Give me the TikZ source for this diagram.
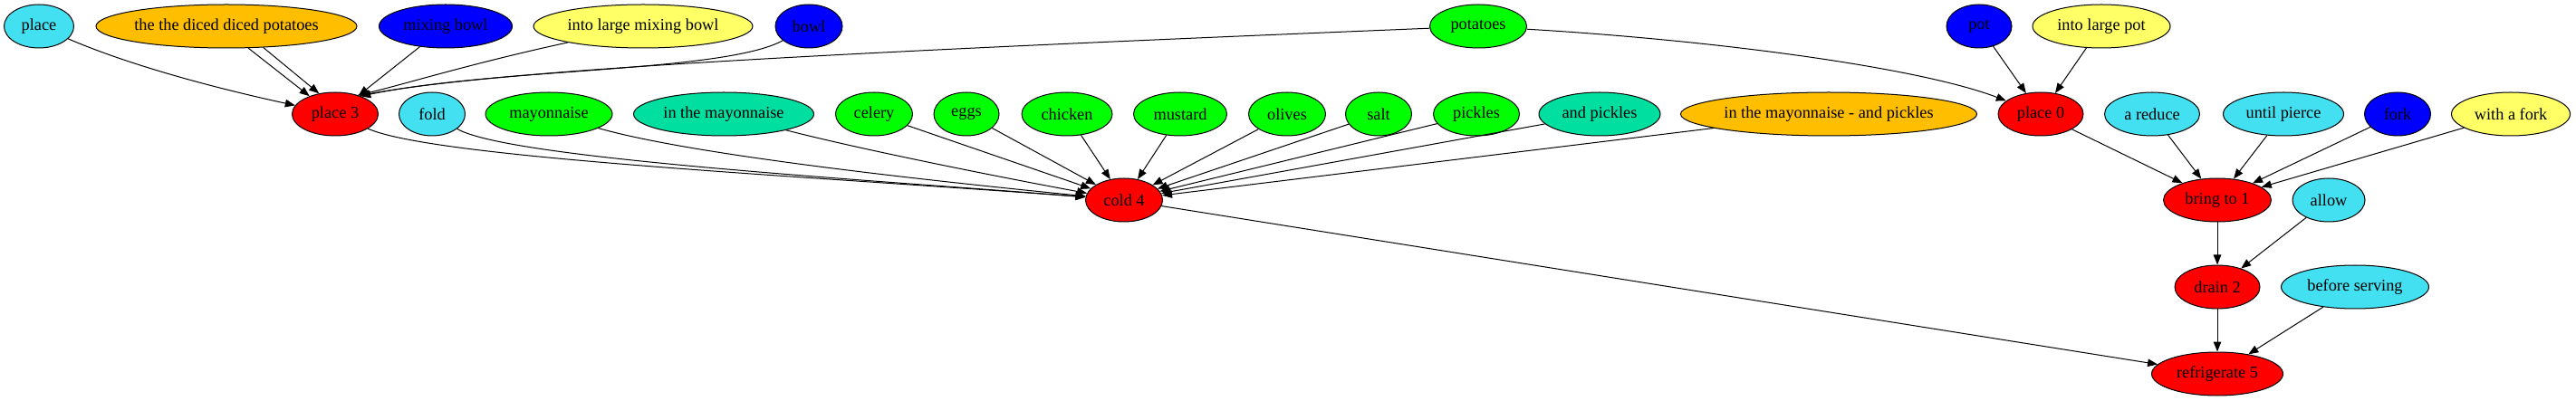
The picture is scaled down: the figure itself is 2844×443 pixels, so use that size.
\documentclass[tikz,border=0pt]{standalone}
\usepackage{fontspec}
\setmainfont{Liberation Serif}
\usetikzlibrary{arrows.meta,shapes.geometric}
\definecolor{cC}{RGB}{66,224,240}
\definecolor{cO}{RGB}{255,190,0}
\definecolor{cB}{RGB}{0,0,255}
\definecolor{cY}{RGB}{255,255,102}
\definecolor{cG}{RGB}{0,255,0}
\definecolor{cT}{RGB}{0,222,160}
\definecolor{cR}{RGB}{255,0,0}
\tikzset{
  nd/.style={ellipse,draw=black,line width=1pt,inner sep=0pt,minimum height=48pt,
    font=\fontsize{18.3}{22}\selectfont},
  arr/.style={draw=black,line width=1pt,-{Triangle[length=11pt,width=8.5pt]}},
}
\begin{document}
\begin{tikzpicture}[x=1pt,y=-1pt]
\useasboundingbox (0,0) rectangle (2844,443);
% rank 0
\node[nd,fill=cC,minimum width=77pt] (place) at (43,29) {place};
\node[nd,fill=cO,minimum width=288pt] (dp) at (250,29) {the the diced diced potatoes};
\node[nd,fill=cB,minimum width=147pt] (mb) at (492,29) {mixing bowl};
\node[nd,fill=cY,minimum width=242pt] (ilmb) at (710,29) {into large mixing bowl};
\node[nd,fill=cB,minimum width=74pt] (bowl) at (893,29) {bowl};
\node[nd,fill=cG,minimum width=107pt] (potatoes) at (1632,29) {potatoes};
\node[nd,fill=cB,minimum width=72pt] (pot) at (2185,29) {pot};
\node[nd,fill=cY,minimum width=152pt] (ilp) at (2320,29) {into large pot};
% rank 1
\node[nd,fill=cR,minimum width=95pt] (p3) at (370,126) {place 3};
\node[nd,fill=cC,minimum width=73pt] (fold) at (477,126) {fold};
\node[nd,fill=cG,minimum width=140pt] (mayo) at (606,126) {mayonnaise};
\node[nd,fill=cT,minimum width=199pt] (itm) at (799,126) {in the mayonnaise};
\node[nd,fill=cG,minimum width=85pt] (celery) at (965,126) {celery};
\node[nd,fill=cG,minimum width=72pt] (eggs) at (1067,126) {eggs};
\node[nd,fill=cG,minimum width=100pt] (chicken) at (1178,126) {chicken};
\node[nd,fill=cG,minimum width=103pt] (mustard) at (1303,126) {mustard};
\node[nd,fill=cG,minimum width=85pt] (olives) at (1421,126) {olives};
\node[nd,fill=cG,minimum width=73pt] (salt) at (1522,126) {salt};
\node[nd,fill=cG,minimum width=95pt] (pickles) at (1630,126) {pickles};
\node[nd,fill=cT,minimum width=134pt] (ap) at (1766,126) {and pickles};
\node[nd,fill=cO,minimum width=323pt] (itmap) at (2019,126) {in the mayonnaise - and pickles};
\node[nd,fill=cR,minimum width=94pt] (p0) at (2253,126) {place 0};
\node[nd,fill=cC,minimum width=105pt] (ared) at (2376,126) {a reduce};
\node[nd,fill=cC,minimum width=133pt] (up) at (2521,126) {until pierce};
\node[nd,fill=cB,minimum width=73pt] (fork) at (2647,126) {fork};
\node[nd,fill=cY,minimum width=131pt] (waf) at (2772,126) {with a fork};
% rank 2
\node[nd,fill=cR,minimum width=85pt] (c4) at (1241,221) {cold 4};
\node[nd,fill=cR,minimum width=119pt] (b1) at (2448,221) {bring to 1};
\node[nd,fill=cC,minimum width=80pt] (allow) at (2571,221) {allow};
% rank 3
\node[nd,fill=cR,minimum width=94pt] (d2) at (2448,317) {drain 2};
\node[nd,fill=cC,minimum width=163pt] (bs) at (2600,317) {before serving};
% rank 4
\node[nd,fill=cR,minimum width=145pt] (r5) at (2448,413) {refrigerate 5};
% edges into place 3
\draw[arr] (place) .. controls (150,75) and (250,100) .. (p3);
\draw[arr] (dp.-45) -- (p3.145);
\draw[arr] (dp.-30) -- (p3.128);
\draw[arr] (mb) -- (p3);
\draw[arr] (ilmb) .. controls (520,70) and (440,95) .. (p3.40);
\draw[arr] (bowl) .. controls (800,80) and (550,75) .. (p3.35);
\draw[arr] (potatoes) .. controls (1000,55) and (560,75) .. (p3.37);
% edges into place 0
\draw[arr] (potatoes) .. controls (1900,45) and (2120,75) .. (p0);
\draw[arr] (pot) -- (p0);
\draw[arr] (ilp) -- (p0);
% edges into cold 4
\draw[arr] (p3) .. controls (480,175) and (900,195) .. (c4);
\draw[arr] (fold) .. controls (560,175) and (950,198) .. (c4);
\draw[arr] (mayo) .. controls (760,170) and (1000,197) .. (c4);
\draw[arr] (itm) .. controls (950,165) and (1100,195) .. (c4);
\draw[arr] (celery) -- (c4);
\draw[arr] (eggs) -- (c4);
\draw[arr] (chicken) -- (c4);
\draw[arr] (mustard) -- (c4);
\draw[arr] (olives) -- (c4);
\draw[arr] (salt) -- (c4);
\draw[arr] (pickles) -- (c4);
\draw[arr] (ap) -- (c4);
\draw[arr] (itmap) -- (c4);
% edges into bring to 1
\draw[arr] (p0) -- (b1);
\draw[arr] (ared) -- (b1);
\draw[arr] (up) -- (b1);
\draw[arr] (fork) -- (b1);
\draw[arr] (waf) -- (b1);
% lower chain
\draw[arr] (b1) -- (d2);
\draw[arr] (allow) -- (d2);
\draw[arr] (d2) -- (r5);
\draw[arr] (bs) -- (r5);
\draw[arr] (c4) -- (r5);
\end{tikzpicture}
\end{document}
